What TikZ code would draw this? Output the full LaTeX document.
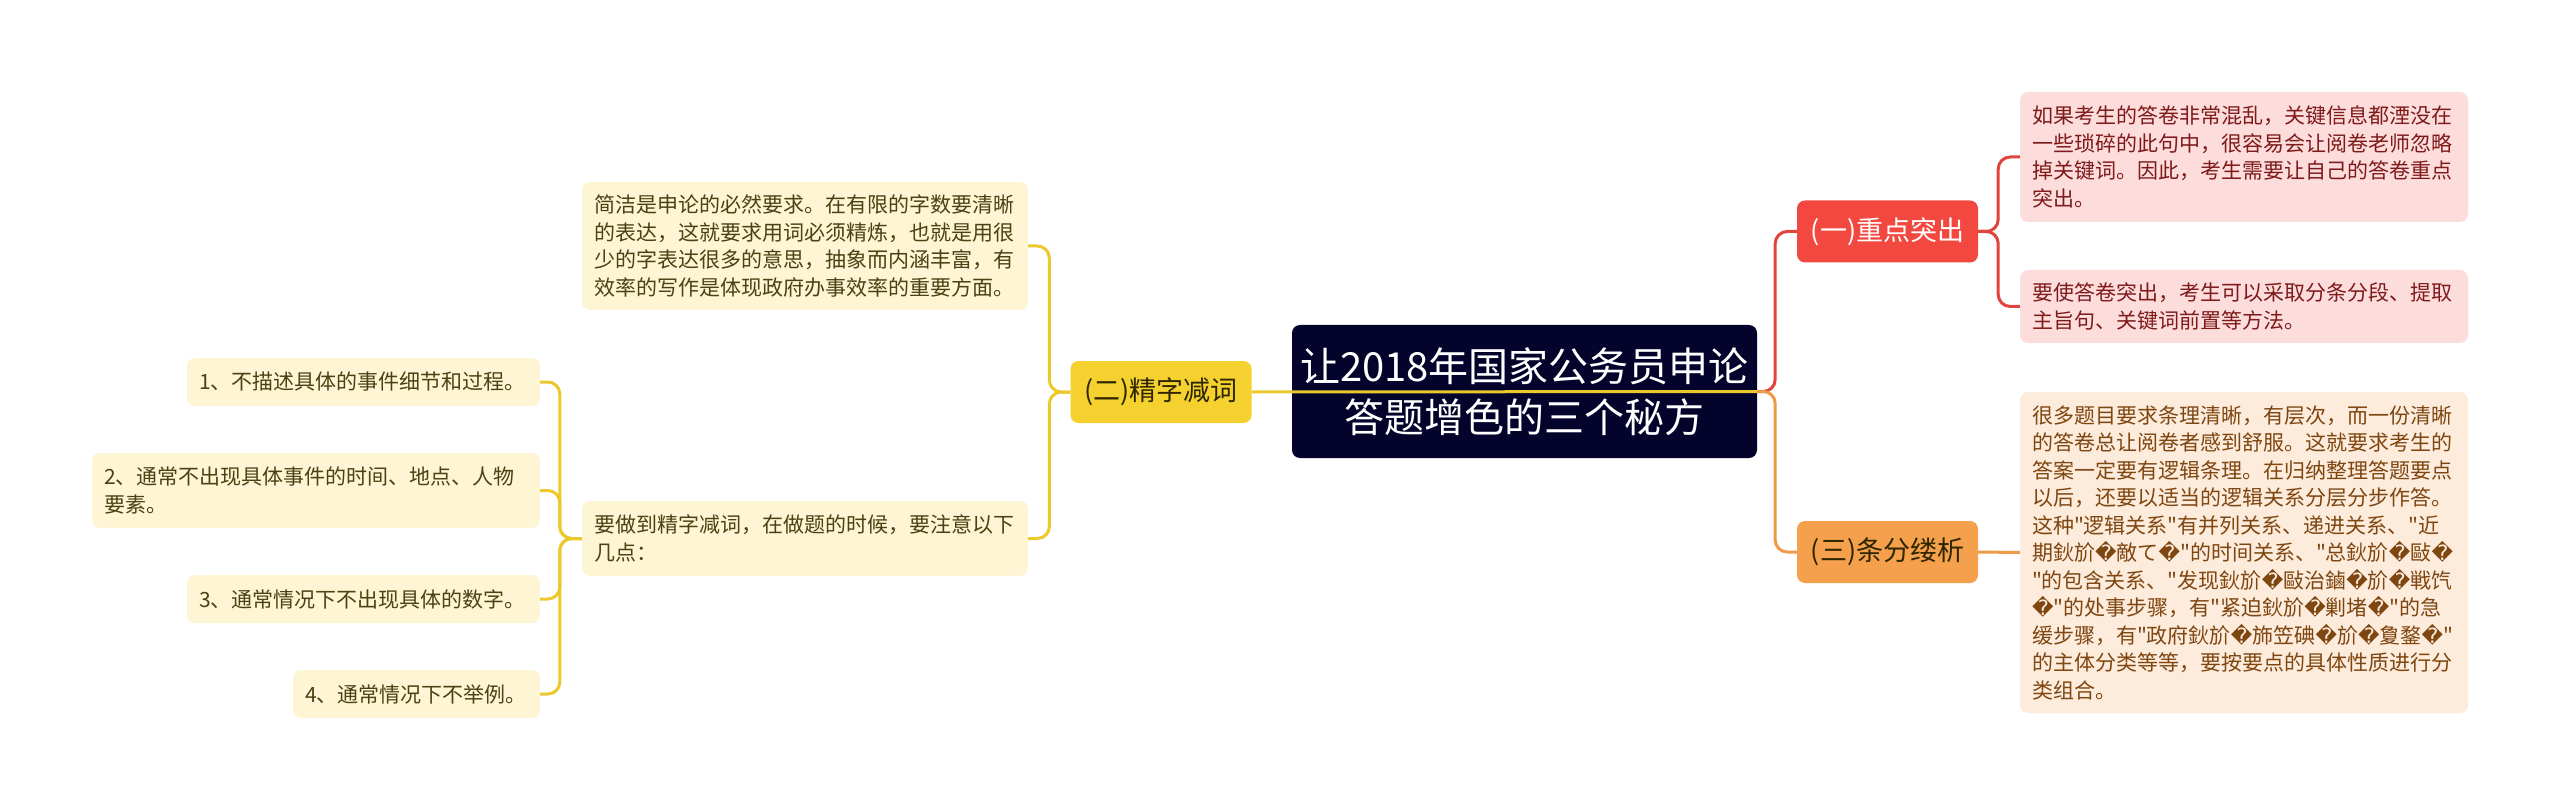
\documentclass[tikz,border=0pt]{standalone}
\usepackage{fontspec}
\setmainfont{Noto Sans CJK SC}[Ligatures=TeXOff]
\newfontfamily\dvfont{DejaVu Sans}
\newcommand\repl{{\dvfont\symbol{"FFFD}}}
\definecolor{navy}{HTML}{03032B}
\definecolor{redfill}{HTML}{F2483F}
\definecolor{redline}{HTML}{E0443C}
\definecolor{orgfill}{HTML}{F4A04C}
\definecolor{orgline}{HTML}{EF9A48}
\definecolor{yelfill}{HTML}{F4D12F}
\definecolor{yelline}{HTML}{EBC92D}
\definecolor{pinkfill}{HTML}{FDDCDC}
\definecolor{pinktext}{HTML}{7E1A1A}
\definecolor{peachfill}{HTML}{FDEBDC}
\definecolor{peachtext}{HTML}{7E4610}
\definecolor{creamfill}{HTML}{FDF5D4}
\definecolor{creamtext}{HTML}{4A4213}
\definecolor{darktext}{HTML}{2E2600}
\begin{document}
\begin{tikzpicture}[x=1pt,y=-1pt,
  leafbox/.style={rounded corners=8pt, inner xsep=12pt, inner ysep=0pt, align=left,
    font=\fontsize{21}{27.5}\selectfont},
  pinkbox/.style={leafbox, fill=pinkfill, text=pinktext},
  peachbox/.style={leafbox, fill=peachfill, text=peachtext},
  creambox/.style={leafbox, fill=creamfill, text=creamtext},
  topicbox/.style={rounded corners=8pt, inner sep=0pt, align=center,
    minimum width=181pt, minimum height=62pt, font=\fontsize{27}{32}\selectfont},
  conn/.style={line width=3pt, rounded corners=12pt},
  redl/.style={conn, draw=redline},
  orgl/.style={conn, draw=orgline},
  yell/.style={conn, draw=yelline}]
\useasboundingbox (0,0) rectangle (2560,810);
\fill[white] (0,0) rectangle (2560,810);

% central node
\node[rounded corners=8pt, fill=navy, text=white, inner sep=0pt, minimum width=465pt,
  minimum height=133pt, align=center, font=\fontsize{40}{51}\selectfont]
  (ctr) at (1524.5,391.5) {让2018年国家公务员申论\\答题增色的三个秘方};

% topic nodes
\node[topicbox, fill=redfill, text=white] (one) at (1887.5,231.5) {(一)重点突出};
\node[topicbox, fill=orgfill, text=darktext] (three) at (1887.5,552) {(三)条分缕析};
\node[topicbox, fill=yelfill, text=darktext] (two) at (1161,392) {(二)精字减词};

% right leaves
\node[pinkbox, minimum width=448pt, text width=424pt, minimum height=130pt] (r1) at (2244,157)
  {如果考生的答卷非常混乱，关键信息都湮没在\\一些琐碎的此句中，很容易会让阅卷老师忽略\\掉关键词。因此，考生需要让自己的答卷重点\\突出。};
\node[pinkbox, minimum width=448pt, text width=424pt, minimum height=73pt] (r2) at (2244,306.5)
  {要使答卷突出，考生可以采取分条分段、提取\\主旨句、关键词前置等方法。};
\node[peachbox, minimum width=448pt, text width=424pt, minimum height=321pt] (r3) at (2244,552.5)
  {很多题目要求条理清晰，有层次，而一份清晰\\的答卷总让阅卷者感到舒服。这就要求考生的\\答案一定要有逻辑条理。在归纳整理答题要点\\以后，还要以适当的逻辑关系分层分步作答。\\这种"逻辑关系"有并列关系、递进关系、"近\\期鈥斺\repl 敵て\repl "的时间关系、"总鈥斺\repl 敺\repl\\"的包含关系、"发现鈥斺\repl 敺治鏀\repl 斺\repl 戦饩\\\repl "的处事步骤，有"紧迫鈥斺\repl 剿堵\repl "的急\\缓步骤，有"政府鈥斺\repl 斾笠碘\repl 斺\repl 夐鍪\repl "\\的主体分类等等，要按要点的具体性质进行分\\类组合。};

% left leaves
\node[creambox, minimum width=446pt, text width=422pt, minimum height=128pt] (l1) at (805,246)
  {简洁是申论的必然要求。在有限的字数要清晰\\的表达，这就要求用词必须精炼，也就是用很\\少的字表达很多的意思，抽象而内涵丰富，有\\效率的写作是体现政府办事效率的重要方面。};
\node[creambox, minimum width=446pt, text width=422pt, minimum height=75pt] (l2) at (805,538.5)
  {要做到精字减词，在做题的时候，要注意以下\\几点：};
\node[creambox, minimum width=353pt, text width=329pt, minimum height=48pt] (i1) at (363.5,382)
  {1、不描述具体的事件细节和过程。};
\node[creambox, minimum width=448pt, text width=424pt, minimum height=75pt] (i2) at (316,490.5)
  {2、通常不出现具体事件的时间、地点、人物\\要素。};
\node[creambox, minimum width=353pt, text width=329pt, minimum height=48pt] (i3) at (363.5,599)
  {3、通常情况下不出现具体的数字。};
\node[creambox, minimum width=247pt, text width=223pt, minimum height=48pt] (i4) at (416.5,694)
  {4、通常情况下不举例。};

% connectors
\draw[redl] (ctr.east) -- ++(18,0) |- (one.west);
\draw[orgl] (ctr.east) -- ++(18,0) |- (three.west);
\draw[redl] (one.east) -- ++(20,0) |- (r1.west);
\draw[redl] (one.east) -- ++(20,0) |- (r2.west);
\draw[orgl] (three.east) -- (r3.west);
\draw[yell] (two.east) -- (ctr.east);
\draw[yell] (two.west) -- ++(-21,0) |- (l1.east);
\draw[yell] (two.west) -- ++(-21,0) |- (l2.east);
\draw[yell] (l2.west) -- ++(-22,0) |- (i1.east);
\draw[yell] (l2.west) -- ++(-22,0) |- (i2.east);
\draw[yell] (l2.west) -- ++(-22,0) |- (i3.east);
\draw[yell] (l2.west) -- ++(-22,0) |- (i4.east);
\end{tikzpicture}
\end{document}
